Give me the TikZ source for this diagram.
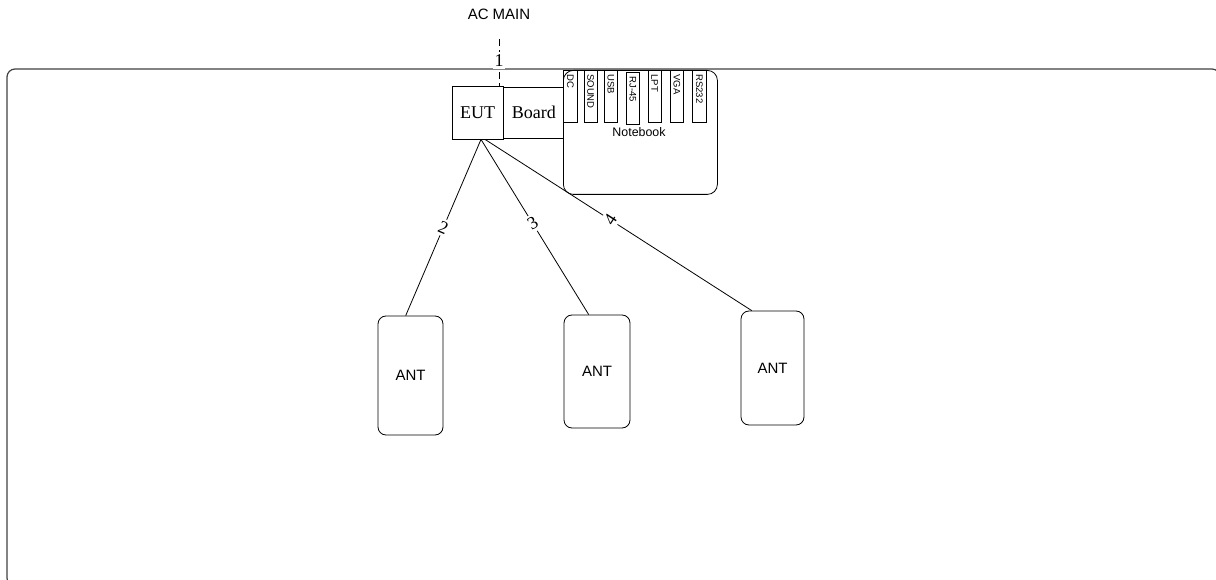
\documentclass[tikz,border=0pt]{standalone}
\usepackage{fontspec}
\setmainfont{Liberation Serif}
\setsansfont{Liberation Sans}
\usetikzlibrary{positioning}

\begin{document}
\begin{tikzpicture}[x=1pt,y=-1pt,line width=0.8pt,node distance=0pt]
\tikzstyle{box}=[draw=black,minimum width=51pt,minimum height=53pt,inner sep=2pt,font=\fontsize{18}{20}\selectfont]
\tikzstyle{ant}=[draw=black,rounded corners=8pt,font=\sffamily\fontsize{15}{17}\selectfont]
\tikzstyle{port}=[draw=black,rotate=-90,anchor=west,minimum width=52pt,minimum height=13.5pt,inner xsep=4pt,inner ysep=0pt,text width=44pt,align=left,font=\sffamily\fontsize{9.5}{10}\selectfont]
\tikzstyle{num}=[fill=white,inner xsep=1.5pt,inner ysep=2.5pt,font=\fontsize{18}{20}\selectfont]

\useasboundingbox (0,0) rectangle (1216,580);
\clip (0,0) rectangle (1216,580);
% test table
\draw[black!75,line width=1.2pt,rounded corners=8pt] (7,69) rectangle (1220,586);

\node[font=\sffamily\fontsize{15}{17}\selectfont] (acmain) at (499,14) {AC MAIN};
\node[box] (eut) at (477.5,112.5) {EUT};
\node[box,minimum width=60pt,minimum height=51pt,right=of eut] (board) {Board};
\node[draw=black,rounded corners=10pt,minimum width=154pt,minimum height=124pt,anchor=north west] (notebook) at (563,70) {};
\node[font=\sffamily\fontsize{12.4}{14}\selectfont] (nbtext) at (639,132) {Notebook};

% notebook ports
\foreach \px/\py/\lbl [count=\i] in {570.5/70/DC, 590.7/70/SOUND, 610.8/70/USB, 632.8/72.3/RJ-45, 654.7/70/LPT, 676.8/70/VGA, 699.5/70/RS232}
  \node[port] (port\i) at (\px,\py) {\lbl};

\node[ant,minimum width=65pt,minimum height=119pt] (ant1) at (410.5,375.5) {ANT};
\node[ant,minimum width=66pt,minimum height=113pt] (ant2) at (597,371.5) {ANT};
\node[ant,minimum width=63pt,minimum height=114pt] (ant3) at (772.5,368) {ANT};

% cables
\draw[dash pattern=on 7pt off 4pt,shorten <=16pt] (acmain.south) -- (acmain.south |- eut.north) node[num,pos=0.6]{1};
\draw ([xshift=3.5pt]eut.south) -- ([xshift=-4.8pt]ant1.north) node[num,midway,rotate=-23]{2};
\draw ([xshift=3.5pt]eut.south) -- ([xshift=-8.3pt]ant2.north) node[num,pos=0.48,rotate=31]{3};
\draw ([xshift=7.5pt]eut.south) -- ([xshift=-20.8pt]ant3.north) node[num,pos=0.47,rotate=57]{4};
\end{tikzpicture}
\end{document}
